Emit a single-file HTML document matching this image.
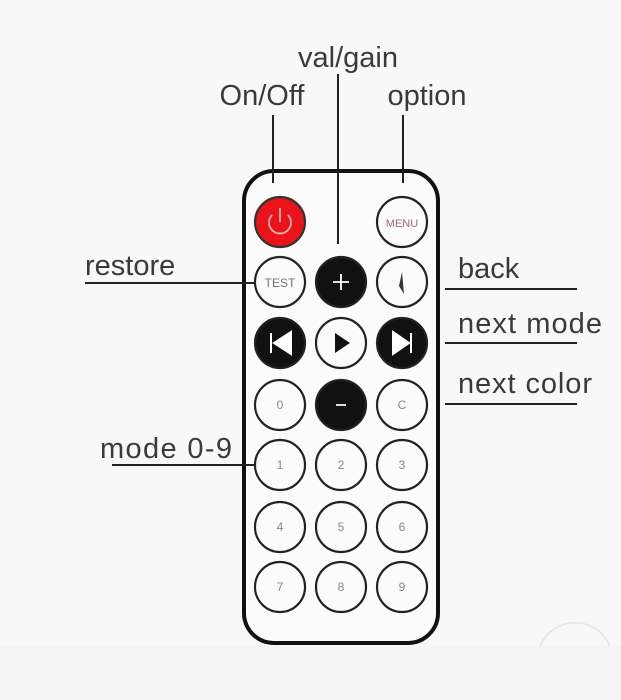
<!DOCTYPE html>
<html><head><meta charset="utf-8"><style>
html,body{margin:0;padding:0;background:#f7f7f7;}
svg{display:block}
text{font-family:"Liberation Sans","DejaVu Sans",sans-serif;}
</style></head><body>
<svg width="621" height="700" viewBox="0 0 621 700" xmlns="http://www.w3.org/2000/svg">
<rect width="621" height="700" fill="#f8f8f8"/>
<rect y="646" width="621" height="54" fill="#f4f4f4"/>
<path d="M540 646 A38 38 0 0 1 610 646" fill="none" stroke="#e4e4e4" stroke-width="1.5"/>
<g fill="#3a3a3a" font-size="29">
<text x="348" y="67" text-anchor="middle">val/gain</text>
<text x="262" y="105" text-anchor="middle">On/Off</text>
<text x="427" y="105" text-anchor="middle">option</text>
<text x="85" y="275">restore</text>
<text x="458" y="278">back</text>
<text x="458" y="333" textLength="144">next mode</text>
<text x="458" y="393" textLength="134">next color</text>
<text x="100" y="458" textLength="132">mode 0-9</text>
</g>
<rect x="244" y="171" width="194" height="472" rx="30" fill="#fbfbfb" stroke="#111" stroke-width="4"/>
<g stroke="#222" stroke-width="2" fill="none">
<line x1="273" y1="115" x2="273" y2="183"/>
<line x1="338" y1="74" x2="338" y2="244"/>
<line x1="403" y1="115" x2="403" y2="183"/>
<line x1="85" y1="283" x2="256" y2="283"/>
<line x1="445" y1="289" x2="577" y2="289"/>
<line x1="445" y1="343" x2="577" y2="343"/>
<line x1="445" y1="404" x2="577" y2="404"/>
<line x1="112" y1="465" x2="256" y2="465"/>
</g>
<g stroke="#222" stroke-width="2.2" fill="#fbfbfb">
<circle cx="280" cy="222" r="25" fill="#e8141a" stroke="#333"/>
<circle cx="402" cy="222" r="25"/>
<circle cx="280" cy="282" r="25"/>
<circle cx="341" cy="282" r="25" fill="#111"/>
<circle cx="402" cy="282" r="25"/>
<circle cx="280" cy="343" r="25" fill="#111"/>
<circle cx="341" cy="343" r="25"/>
<circle cx="402" cy="343" r="25" fill="#111"/>
<circle cx="280" cy="405" r="25"/>
<circle cx="341" cy="405" r="25" fill="#111"/>
<circle cx="402" cy="405" r="25"/>
<circle cx="280" cy="465" r="25"/><circle cx="341" cy="465" r="25"/><circle cx="402" cy="465" r="25"/>
<circle cx="280" cy="527" r="25"/><circle cx="341" cy="527" r="25"/><circle cx="402" cy="527" r="25"/>
<circle cx="280" cy="587" r="25"/><circle cx="341" cy="587" r="25"/><circle cx="402" cy="587" r="25"/>
</g>
<path d="M272 215 A11 11 0 1 0 288 215 M280 208 L280 222" fill="none" stroke="#f7b0b0" stroke-width="1.8"/>
<text x="402" y="227" text-anchor="middle" font-size="11" fill="#b06080">MENU</text>
<text x="280" y="287" text-anchor="middle" font-size="12" fill="#777">TEST</text>
<path d="M333 282 H349 M341 274 V290" stroke="#fff" stroke-width="1.8"/>
<path d="M402 272 L404 294 L399 286 Z" fill="#333"/>
<path d="M271 333 V353 M291 332 L274 343 L291 354 Z" fill="#fff" stroke="#fff" stroke-width="2"/>
<path d="M335 333 L350 343 L335 353 Z" fill="#111"/>
<path d="M411 333 V353 M393 332 L409 343 L393 354 Z" fill="#fff" stroke="#fff" stroke-width="2"/>
<path d="M336 405 H346" stroke="#ddd" stroke-width="2"/>
<g font-size="12" fill="#888" text-anchor="middle">
<text x="280" y="409">0</text><text x="402" y="409">C</text>
<text x="280" y="469">1</text><text x="341" y="469">2</text><text x="402" y="469">3</text>
<text x="280" y="531">4</text><text x="341" y="531">5</text><text x="402" y="531">6</text>
<text x="280" y="591">7</text><text x="341" y="591">8</text><text x="402" y="591">9</text>
</g>
</svg>
</body></html>
